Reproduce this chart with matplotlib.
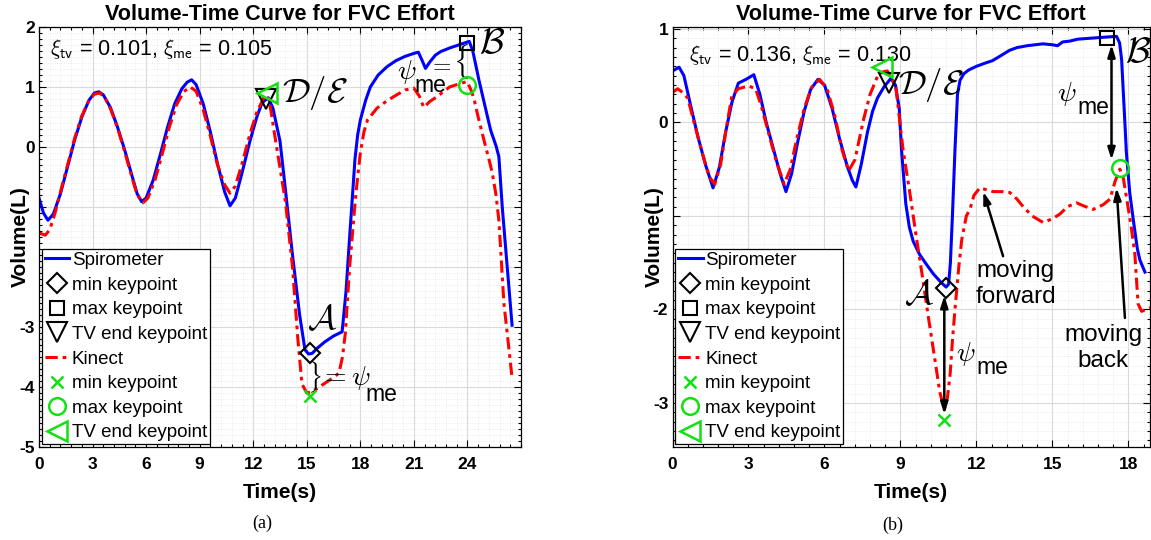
import matplotlib
matplotlib.use('Agg')
import matplotlib.pyplot as plt
from matplotlib.ticker import AutoMinorLocator

plt.rcParams['font.family'] = ['Liberation Sans', 'DejaVu Sans']

# ---------------- data: panel (a) ----------------
a_spiro_t = [0.0, 0.25, 0.5, 0.8, 1.2, 1.6, 2.0, 2.4, 2.8, 3.1, 3.35, 3.6, 4.0, 4.4, 4.8, 5.2, 5.5, 5.75,
             6.0, 6.4, 6.8, 7.2, 7.6, 8.0, 8.3, 8.55, 8.8, 9.2, 9.6, 10.0, 10.4, 10.7, 11.0, 11.4, 11.8,
             12.2, 12.5, 12.84, 13.1, 13.5, 13.8, 14.2, 14.6, 14.9, 15.1, 15.3, 15.6, 16.0, 16.5, 16.98,
             17.2, 17.4, 17.54, 17.7, 17.85, 18.0, 18.3, 18.56, 19.0, 19.5, 20.0, 20.5, 21.0, 21.25,
             21.45, 21.65, 21.9, 22.2, 22.5, 23.0, 23.5, 23.8, 24.1, 24.3, 24.64, 25.0, 25.3, 25.6,
             25.76, 25.95, 26.2, 26.5]
a_spiro_v = [-0.85, -1.10, -1.22, -1.12, -0.78, -0.33, 0.12, 0.50, 0.78, 0.90, 0.92, 0.87, 0.66, 0.33,
             -0.05, -0.47, -0.78, -0.91, -0.85, -0.55, -0.12, 0.33, 0.72, 0.97, 1.08, 1.12, 1.04, 0.72,
             0.25, -0.28, -0.75, -0.98, -0.85, -0.40, 0.08, 0.50, 0.74, 0.82, 0.65, 0.10, -0.70, -1.80,
             -2.80, -3.38, -3.45, -3.44, -3.35, -3.25, -3.15, -3.08, -2.40, -1.50, -0.90, -0.20, 0.20,
             0.45, 0.78, 1.00, 1.20, 1.34, 1.44, 1.51, 1.56, 1.58, 1.45, 1.31, 1.42, 1.53, 1.59, 1.65,
             1.70, 1.73, 1.76, 1.60, 1.12, 0.66, 0.28, 0.02, -0.16, -1.00, -1.90, -2.97]
a_kin_t = [0.0, 0.35, 0.6, 0.9, 1.2, 1.6, 2.0, 2.4, 2.8, 3.1, 3.4, 3.7, 4.0, 4.4, 4.8, 5.2, 5.5, 5.83,
           6.1, 6.5, 6.9, 7.3, 7.7, 8.1, 8.47, 8.8, 9.2, 9.6, 10.0, 10.4, 10.7, 11.0, 11.4, 11.8, 12.2,
           12.67, 12.9, 13.15, 13.5, 13.8, 14.2, 14.5, 14.73, 15.0, 15.3, 15.8, 16.3, 16.8, 17.0, 17.16,
           17.4, 17.72, 17.85, 18.0, 18.2, 18.4, 18.94, 19.4, 19.87, 20.5, 21.0, 21.3, 21.55, 21.9, 22.3,
           23.0, 23.5, 23.98, 24.2, 24.36, 24.6, 24.92, 25.2, 25.39, 25.6, 25.76, 25.9, 26.04, 26.3, 26.5]
a_kin_v = [-1.43, -1.47, -1.38, -1.10, -0.75, -0.30, 0.15, 0.52, 0.78, 0.88, 0.90, 0.82, 0.64, 0.32,
           -0.08, -0.50, -0.80, -0.93, -0.85, -0.55, -0.12, 0.33, 0.70, 0.92, 1.00, 0.93, 0.62, 0.18,
           -0.30, -0.63, -0.77, -0.65, -0.25, 0.20, 0.58, 0.87, 0.78, 0.30, -0.35, -0.90, -2.00, -3.20,
           -3.95, -4.10, -4.08, -3.98, -3.88, -3.77, -3.50, -3.10, -2.00, -0.88, -0.50, -0.10, 0.25,
           0.45, 0.65, 0.75, 0.84, 0.95, 0.98, 0.85, 0.66, 0.76, 0.84, 1.00, 1.05, 1.09, 0.95, 0.81,
           0.50, 0.12, -0.20, -0.43, -0.80, -1.22, -1.90, -2.60, -3.30, -3.85]
a_spiro_min = (15.2, -3.44)
a_spiro_max = (23.98, 1.74)
a_spiro_tv = (12.70, 0.80)
a_kin_min = (15.16, -4.15)
a_kin_max = (23.95, 1.03)
a_kin_tv = (12.77, 0.90)
a_xticks = [0, 3, 6, 9, 12, 15, 18, 21, 24]
a_yticks = [-5, -4, -3, -2, -1, 0, 1, 2]
a_ylabels = ['-5', '-4', '-3', '', '', '0', '1', '2']
a_xi = r'$\xi_{\mathsf{tv}}$ = 0.101, $\xi_{\mathsf{me}}$ = 0.105'

# ---------------- data: panel (b) ----------------
b_spiro_t = [0.0, 0.26, 0.45, 0.7, 1.0, 1.3, 1.6, 1.85, 2.1, 2.35, 2.6, 2.9, 3.21, 3.45, 3.7, 4.0, 4.25,
             4.48, 4.7, 4.95, 5.2, 5.45, 5.74, 6.0, 6.3, 6.6, 6.9, 7.1, 7.24, 7.45, 7.7, 7.9, 8.09, 8.35,
             8.62, 8.8, 8.95, 9.04, 9.21, 9.35, 9.5, 9.75, 10.03, 10.3, 10.6, 10.8, 10.9, 10.97, 11.05,
             11.15, 11.25, 11.35, 11.5, 11.69, 12.0, 12.3, 12.63, 13.0, 13.3, 13.6, 14.0, 14.63, 15.0,
             15.2, 15.4, 15.7, 16.0, 16.5, 17.0, 17.53, 17.65, 17.73, 17.82, 17.92, 18.05, 18.19, 18.35,
             18.45, 18.65]
b_spiro_v = [0.55, 0.59, 0.50, 0.20, -0.15, -0.45, -0.70, -0.48, -0.10, 0.22, 0.42, 0.46, 0.51, 0.30,
             0.00, -0.30, -0.55, -0.74, -0.55, -0.20, 0.12, 0.35, 0.46, 0.40, 0.15, -0.18, -0.47, -0.62,
             -0.69, -0.45, -0.10, 0.12, 0.26, 0.38, 0.47, 0.40, 0.15, -0.29, -0.87, -1.12, -1.27, -1.41,
             -1.52, -1.62, -1.71, -1.76, -1.73, -1.50, -1.00, -0.30, 0.30, 0.45, 0.52, 0.56, 0.60, 0.63,
             0.66, 0.72, 0.77, 0.80, 0.82, 0.84, 0.83, 0.82, 0.86, 0.87, 0.89, 0.90, 0.91, 0.92, 0.85,
             0.67, 0.20, -0.33, -0.75, -1.04, -1.35, -1.47, -1.60]
b_kin_t = [0.0, 0.2, 0.4, 0.6, 0.9, 1.2, 1.45, 1.67, 1.9, 2.1, 2.34, 2.6, 3.0, 3.28, 3.5, 3.8, 4.1, 4.41,
           4.65, 4.9, 5.2, 5.5, 5.81, 6.1, 6.4, 6.7, 6.95, 7.2, 7.55, 7.8, 8.09, 8.3, 8.48, 8.65, 8.82,
           9.1, 9.35, 9.6, 9.85, 10.1, 10.35, 10.55, 10.73, 10.85, 10.96, 11.06, 11.16, 11.3, 11.42,
           11.6, 11.74, 11.9, 12.13, 12.4, 12.66, 13.0, 13.32, 13.6, 13.84, 14.2, 14.63, 15.0, 15.29,
           15.6, 15.95, 16.3, 16.61, 17.0, 17.27, 17.46, 17.66, 17.8, 17.92, 18.1, 18.25, 18.38, 18.52,
           18.85]
b_kin_v = [0.32, 0.36, 0.32, 0.26, -0.05, -0.35, -0.58, -0.66, -0.45, -0.10, 0.28, 0.36, 0.39, 0.36,
           0.18, -0.12, -0.42, -0.66, -0.50, -0.18, 0.15, 0.38, 0.46, 0.36, 0.08, -0.30, -0.52, -0.40,
           0.04, 0.30, 0.49, 0.54, 0.55, 0.48, 0.37, -0.29, -0.72, -1.18, -1.62, -2.08, -2.52, -2.88,
           -3.07, -2.95, -2.69, -2.30, -1.97, -1.55, -1.25, -1.00, -0.93, -0.78, -0.70, -0.72, -0.74,
           -0.74, -0.75, -0.82, -0.90, -1.00, -1.07, -1.03, -0.98, -0.90, -0.86, -0.90, -0.93, -0.88,
           -0.82, -0.64, -0.50, -0.60, -0.80, -1.10, -1.40, -1.94, -2.02, -1.98]
b_spiro_min = (10.79, -1.77)
b_spiro_max = (17.15, 0.90)
b_spiro_tv = (8.55, 0.42)
b_kin_min = (10.73, -3.18)
b_kin_max = (17.66, -0.49)
b_kin_tv = (8.28, 0.59)
b_xticks = [0, 3, 6, 9, 12, 15, 18]
b_yticks = [-3, -2, -1, 0, 1]
b_ylabels = ['-3', '-2', '', '0', '1']
b_xi = r'$\xi_{\mathsf{tv}}$ = 0.136, $\xi_{\mathsf{me}}$ = 0.130'

legend_labels = ['Spirometer', 'min keypoint', 'max keypoint', 'TV end keypoint',
                 'Kinect', 'min keypoint', 'max keypoint', 'TV end keypoint']

BLUE = '#0000ff'
RED = '#ff0000'
GREEN = '#11e011'
W, H = 1151, 540

fig = plt.figure(figsize=(W / 100, H / 100), dpi=100)
axA = fig.add_axes([39 / W, 1 - 447 / H, (521 - 39) / W, 420 / H])
axB = fig.add_axes([672.5 / W, 1 - 447 / H, (1150 - 672.5) / W, 420 / H])


def style(ax, xlim, ylim, xticks, yticks, ylabels):
    ax.set_xlim(*xlim)
    ax.set_ylim(*ylim)
    ax.set_xticks(xticks, labels=[str(v) for v in xticks])
    ax.set_yticks(yticks, labels=ylabels)
    ax.xaxis.set_minor_locator(AutoMinorLocator(5))
    ax.yaxis.set_minor_locator(AutoMinorLocator(10))
    ax.tick_params(which='both', direction='in', top=True, right=True, width=0.8)
    ax.tick_params(which='major', length=5, labelsize=12.5)
    ax.tick_params(which='minor', length=2.5)
    ax.tick_params(axis='x', pad=7)
    ax.tick_params(axis='y', pad=3)
    for lab in ax.get_xticklabels() + ax.get_yticklabels():
        lab.set_fontweight('bold')
    ax.grid(which='major', color='#dadada', lw=0.8)
    ax.grid(which='minor', color='#e6e6e6', lw=0.6, ls=':')
    ax.set_axisbelow(True)
    for s in ax.spines.values():
        s.set_linewidth(0.9)
    ax.set_title('Volume-Time Curve for FVC Effort', fontsize=15.6, fontweight='bold', pad=5)
    ax.set_xlabel('Time(s)', fontsize=15, fontweight='bold')
    ax.set_ylabel('Volume(L)', fontsize=15, fontweight='bold')
    ax.xaxis.set_label_coords(0.5, -0.085)
    ax.yaxis.set_label_coords(-0.018, 0.5)


def draw(ax, st, sv, kt, kv, smin, smax, stv, kmin, kmax, ktv):
    h = []
    h += ax.plot(st, sv, color=BLUE, lw=2.2, label=legend_labels[0])
    h += ax.plot(*smin, ls='none', marker='D', ms=10, mfc='none', mec='k', mew=1.5, label=legend_labels[1])
    h += ax.plot(*smax, ls='none', marker='s', ms=10, mfc='none', mec='k', mew=1.5, label=legend_labels[2])
    h += ax.plot(*stv, ls='none', marker='v', ms=14, mfc='none', mec='k', mew=1.5, label=legend_labels[3])
    h += ax.plot(kt, kv, color=RED, lw=2.2, ls=(0, (4, 1.6, 1.2, 1.6)), label=legend_labels[4])
    h += ax.plot(*kmin, ls='none', marker='x', ms=9, mec=GREEN, mew=1.8, label=legend_labels[5])
    h += ax.plot(*kmax, ls='none', marker='o', ms=12, mfc='none', mec=GREEN, mew=1.8, label=legend_labels[6])
    h += ax.plot(*ktv, ls='none', marker='<', ms=14, mfc='none', mec=GREEN, mew=1.8, label=legend_labels[7])
    for ln in h[1:4] + h[5:]:
        ln.set_zorder(4)
    leg = ax.legend(handles=h, loc='lower left', bbox_to_anchor=(0, 0), borderaxespad=0.15,
                    fontsize=13.5, handlelength=1.3, handletextpad=0.15, borderpad=0.15,
                    labelspacing=0.40, numpoints=1, fancybox=False, framealpha=1,
                    edgecolor='k')
    leg.get_frame().set_linewidth(0.9)
    leg.set_zorder(10)


style(axA, (0, 27.0), (-5, 2), a_xticks, a_yticks, a_ylabels)
style(axB, (0, 18.85), (-3.47, 1.02), b_xticks, b_yticks, b_ylabels)
draw(axA, a_spiro_t, a_spiro_v, a_kin_t, a_kin_v, a_spiro_min, a_spiro_max, a_spiro_tv,
     a_kin_min, a_kin_max, a_kin_tv)
draw(axB, b_spiro_t, b_spiro_v, b_kin_t, b_kin_v, b_spiro_min, b_spiro_max, b_spiro_tv,
     b_kin_min, b_kin_max, b_kin_tv)

CM = dict(math_fontfamily='cm')

# ---- annotations panel (a)
axA.text(0.62, 1.53, a_xi, fontsize=15.5, va='baseline', **CM)
axA.text(13.6, 0.90, r'$\mathcal{D}/\mathcal{E}$', fontsize=25, va='center', ha='left', **CM)
axA.text(15.87, -2.88, r'$\mathcal{A}$', fontsize=25, va='center', ha='center', **CM)
axA.text(25.38, 1.72, r'$\mathcal{B}$', fontsize=26, va='center', ha='center', clip_on=False, **CM)
axA.text(15.4, -3.84, r'$\}$', fontsize=19, va='center', ha='center', **CM)
axA.text(15.72, -3.85, r'$=\psi$', fontsize=20, va='center', ha='left', **CM)
axA.text(19.2, -4.13, 'me', fontsize=16.5, va='center', ha='center')
axA.text(20.6, 1.25, r'$\psi$', fontsize=20, va='center', ha='center', **CM)
axA.text(21.9, 1.03, 'me', fontsize=16.5, va='center', ha='center')
axA.text(22.45, 1.37, r'$=$', fontsize=17, va='center', ha='center', **CM)
axA.text(23.62, 1.42, r'$\{$', fontsize=21, va='center', ha='center', **CM)

# ---- annotations panel (b)
axB.text(0.67, 0.657, b_xi, fontsize=15.5, va='baseline', **CM)
axB.text(8.89, 0.40, r'$\mathcal{D}/\mathcal{E}$', fontsize=25, va='center', ha='left', **CM)
axB.text(9.75, -1.84, r'$\mathcal{A}$', fontsize=25, va='center', ha='center', **CM)
axB.text(17.86, 0.75, r'$\mathcal{B}$', fontsize=26, va='center', ha='left', clip_on=False, **CM)
axB.text(15.55, 0.30, r'$\psi$', fontsize=20, va='center', ha='center', **CM)
axB.text(16.63, 0.155, 'me', fontsize=16.5, va='center', ha='center')
axB.text(11.58, -2.48, r'$\psi$', fontsize=20, va='center', ha='center', **CM)
axB.text(12.63, -2.62, 'me', fontsize=16.5, va='center', ha='center')
axB.text(13.56, -1.73, 'moving\nforward', fontsize=17.5, va='center', ha='center', linespacing=1.25)
axB.text(17.0, -2.41, 'moving\nback', fontsize=17.5, va='center', ha='center', linespacing=1.25)

arr2 = dict(arrowstyle='<|-|>,head_length=0.7,head_width=0.22', color='k', lw=1.8,
            shrinkA=0, shrinkB=0)
arr1 = dict(arrowstyle='-|>,head_length=0.7,head_width=0.22', color='k', lw=1.8,
            shrinkA=0, shrinkB=0)
axB.annotate('', xy=(17.33, -0.40), xytext=(17.33, 0.83), arrowprops=arr2)
axB.annotate('', xy=(10.73, -3.12), xytext=(10.73, -1.85), arrowprops=arr2)
axB.annotate('', xy=(12.27, -0.74), xytext=(13.05, -1.43), arrowprops=arr1)
axB.annotate('', xy=(17.53, -0.70), xytext=(17.86, -2.09), arrowprops=arr1)

fig.text(262 / W, 1 - 523 / H, '(a)', fontsize=13, ha='center', va='center', family='Liberation Serif')
fig.text(893 / W, 1 - 525 / H, '(b)', fontsize=13, ha='center', va='center', family='Liberation Serif')

fig.savefig('out.png', dpi=100)
